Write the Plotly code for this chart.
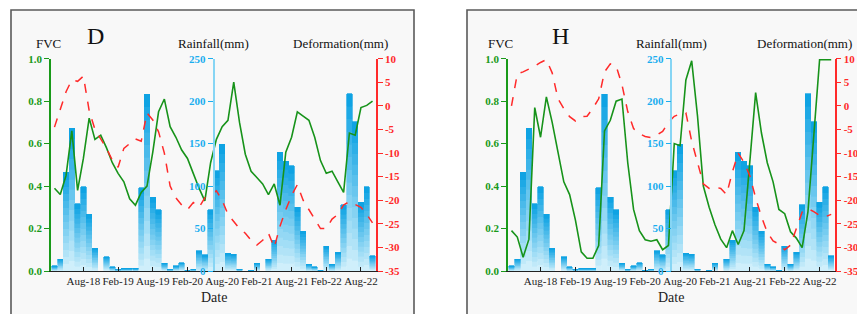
import plotly.graph_objects as go

# ---------------- data ----------------
# monthly index 0 = Mar-2018 ... 55 = Oct-2022
months = list(range(56))
tick_months = [5, 11, 17, 23, 29, 35, 41, 47, 53]
tick_labels = ["Aug-18", "Feb-19", "Aug-19", "Feb-20", "Aug-20",
               "Feb-21", "Aug-21", "Feb-22", "Aug-22"]

rainfall = [6, 14, 116, 168, 79, 99, 67, 27, 0, 17,
            5, 2, 3, 3, 3, 98, 208, 87, 72, 9,
            2, 6, 10, 1, 2, 24, 19, 72, 118, 149,
            21, 20, 2, 0, 1, 9, 0, 14, 36, 140,
            129, 124, 75, 47, 8, 5, 1, 29, 8, 22,
            78, 209, 176, 81, 99, 18]

fvc_d = [0.39, 0.36, 0.45, 0.66, 0.38, 0.53, 0.72, 0.62, 0.64, 0.58,
         0.51, 0.46, 0.42, 0.34, 0.31, 0.37, 0.40, 0.56, 0.75, 0.81,
         0.68, 0.63, 0.57, 0.53, 0.46, 0.39, 0.33, 0.51, 0.62, 0.68,
         0.71, 0.89, 0.70, 0.55, 0.47, 0.44, 0.41, 0.36, 0.41, 0.31,
         0.56, 0.63, 0.75, 0.73, 0.71, 0.63, 0.52, 0.46, 0.47, 0.42,
         0.37, 0.65, 0.64, 0.77, 0.78, 0.80]

def_d = [-4.5, -0.5, 3.0, 5.5, 5.2, 6.3, -1.0, -5.0, -7.0, -9.0,
         -11.5, -13.0, -9.0, -8.0, -7.0, -7.5, -1.5, -3.0, -5.5, -10.0,
         -17.0, -19.5, -21.0, -22.0, -20.5, -21.5, -19.5, -18.8, -18.0, -20.0,
         -23.0, -24.5, -26.0, -27.0, -28.5, -29.5, -28.5, -27.0, -30.0, -25.5,
         -22.0, -19.0, -16.7, -20.0, -22.0, -24.0, -26.0, -26.0, -24.0, -23.0,
         -21.0, -20.3, -20.9, -21.5, -23.0, -24.8]

fvc_h = [0.19, 0.16, 0.065, 0.15, 0.77, 0.63, 0.82, 0.70, 0.56, 0.42,
         0.36, 0.24, 0.09, 0.06, 0.06, 0.12, 0.66, 0.71, 0.80, 0.81,
         0.51, 0.29, 0.19, 0.147, 0.14, 0.147, 0.10, 0.12, 0.60, 0.59,
         0.90, 0.99, 0.73, 0.40, 0.30, 0.218, 0.15, 0.11, 0.19, 0.125,
         0.19, 0.50, 0.84, 0.65, 0.51, 0.42, 0.29, 0.27, 0.185, 0.155,
         0.11, 0.28, 0.65, 0.995, 0.995, 0.995]

def_h = [0.0, 6.8, 7.2, 7.8, 8.4, 9.2, 9.8, 7.0, 1.5, -0.6,
         -2.3, -3.2, -2.3, -2.2, -0.5, 1.5, 7.2, 8.9, 8.5, 4.5,
         -1.2, -4.8, -5.9, -6.5, -6.7, -6.2, -5.4, -3.5, -2.2, -1.7,
         -1.5, -7.5, -12.0, -16.5, -17.5, -17.2, -17.5, -18.8, -14.0, -10.0,
         -12.0, -14.8, -19.5, -23.5, -26.8, -28.6, -29.3, -30.5, -29.5, -26.0,
         -22.5, -21.8, -22.4, -23.2, -23.5, -23.0]

fvc_ticks = [0, 0.2, 0.4, 0.6, 0.8, 1.0]
fvc_ticktext = ["0.0", "0.2", "0.4", "0.6", "0.8", "1.0"]
rain_ticks = [0, 50, 100, 150, 200, 250]
def_ticks = [-35, -30, -25, -20, -15, -10, -5, 0, 5, 10]
def_ticktext = [str(v) for v in def_ticks]

# ---------------- style ----------------
W, H = 865, 314
SERIF = "Liberation Serif"
GREEN = "#17931a"
GREEN_TXT = "#1a9a1a"
BLUE_TXT = "#1aaeef"
BLUE_LINE = "#86d5f4"
RED = "#ff2a2a"
BAR_TOP = (8, 160, 226)
BAR_BOT = (214, 242, 252)
K = 14

def px(x):
    return x / W

def py(y):
    return 1 - y / H

ydom = [py(263), py(50.7)]

panels = [
    dict(name="D", fvc=fvc_d, dfm=def_d, x0=43, x1=368, xa="x", ya=("y", "y2", "y3"),
         frame=(3, 406)),
    dict(name="H", fvc=fvc_h, dfm=def_h, x0=500, x1=826.7, xa="x2", ya=("y4", "y5", "y6"),
         frame=(459, 862)),
]

fig = go.Figure()

def mix(t):
    c = [round(BAR_BOT[j] + (BAR_TOP[j] - BAR_BOT[j]) * t) for j in range(3)]
    return "rgb(%d,%d,%d)" % tuple(c)

for p in panels:
    yr, yf, yd = p["ya"]
    for k in range(K):
        t = (k + 0.5) / K
        col = mix(t)
        fig.add_trace(go.Bar(
            x=months, y=[r / K for r in rainfall],
            marker=dict(color=col, line=dict(width=0.7, color=col)),
            xaxis=p["xa"], yaxis=yr, showlegend=False,
            offsetgroup=p["name"], hoverinfo="skip"))
    fig.add_trace(go.Scatter(
        x=months, y=p["fvc"], mode="lines",
        line=dict(color=GREEN, width=1.6),
        xaxis=p["xa"], yaxis=yf, showlegend=False))
    fig.add_trace(go.Scatter(
        x=months, y=p["dfm"], mode="lines",
        line=dict(color=RED, width=1.5, dash="dash"),
        xaxis=p["xa"], yaxis=yd, showlegend=False))

layout = dict(
    width=W, height=H,
    margin=dict(l=0, r=0, t=0, b=0),
    paper_bgcolor="white", plot_bgcolor="rgba(0,0,0,0)",
    barmode="stack", bargap=0.06,
    hovermode=False, showlegend=False,
    shapes=[], annotations=[],
)

def tfont(color, size=11, bold=True):
    d = dict(family=SERIF, size=size, color=color)
    if bold:
        d["weight"] = "bold"
    return d

for idx, p in enumerate(panels):
    xa_key = "xaxis" if idx == 0 else "xaxis2"
    yr, yf, yd = p["ya"]
    keys = ["yaxis" + ("" if yr == "y" else yr[1:]),
            "yaxis" + yf[1:], "yaxis" + yd[1:]]
    layout[xa_key] = dict(
        domain=[px(p["x0"]), px(p["x1"])], anchor=yr,
        range=[-0.6, 55.6], tickvals=tick_months, ticktext=tick_labels,
        tickangle=0,
        ticks="inside", ticklen=4, tickcolor="#222", showline=True,
        linecolor="#222", linewidth=1, showgrid=False, zeroline=False,
        tickfont=tfont("#222", 11, False), automargin=False)
    rain_pos = px((p["x0"] + p["x1"]) / 2)
    layout[keys[0]] = dict(
        domain=ydom, range=[0, 250], anchor="free", position=rain_pos,
        side="left", tickvals=rain_ticks, showline=True, linecolor=BLUE_LINE,
        linewidth=1.5, ticks="outside", ticklen=5, tickcolor=BLUE_TXT,
        tickfont=tfont(BLUE_TXT), showgrid=False, zeroline=False, automargin=False)
    layout[keys[1]] = dict(
        overlaying=yr, anchor=p["xa"], side="left", range=[0, 1],
        tickvals=fvc_ticks, ticktext=fvc_ticktext, showline=True,
        linecolor=GREEN_TXT, linewidth=1.5, ticks="outside", ticklen=5,
        tickcolor=GREEN_TXT, tickfont=tfont(GREEN_TXT), showgrid=False,
        zeroline=False, automargin=False)
    layout[keys[2]] = dict(
        overlaying=yr, anchor=p["xa"], side="right", range=[-35, 10],
        tickvals=def_ticks, ticktext=def_ticktext, showline=True,
        linecolor=RED, linewidth=1.5, ticks="outside", ticklen=5,
        tickcolor=RED, tickfont=tfont(RED), showgrid=False,
        zeroline=False, automargin=False)

    f0, f1 = p["frame"]
    layout["shapes"].append(dict(
        type="rect", xref="paper", yref="paper", layer="below",
        x0=px(f0), x1=px(f1), y0=py(312), y1=py(2),
        line=dict(color="#5a5a5a", width=1.6), fillcolor="#f8f8f8"))

    cx = (p["x0"] + p["x1"]) / 2
    ann = [
        (p["name"], p["x0"] + (44 if idx == 0 else 52), 28, 24, "#111"),
        ("FVC", p["x0"] - 3 - (0 if idx == 0 else 5), 36, 13, "#111"),
        ("Rainfall(mm)", cx, 36, 13, "#111"),
        ("Deformation(mm)", p["x1"] - 36 + (0 if idx == 0 else 6), 36, 13, "#111"),
        ("Date", cx, 289, 14, "#222"),
    ]
    for text, ax, ay, size, col in ann:
        layout["annotations"].append(dict(
            text=text, x=px(ax), y=py(ay), xref="paper", yref="paper",
            xanchor="center", yanchor="middle", showarrow=False,
            font=dict(family=SERIF, size=size, color=col)))

fig.update_layout(**layout)
fig.write_html("out.html")
